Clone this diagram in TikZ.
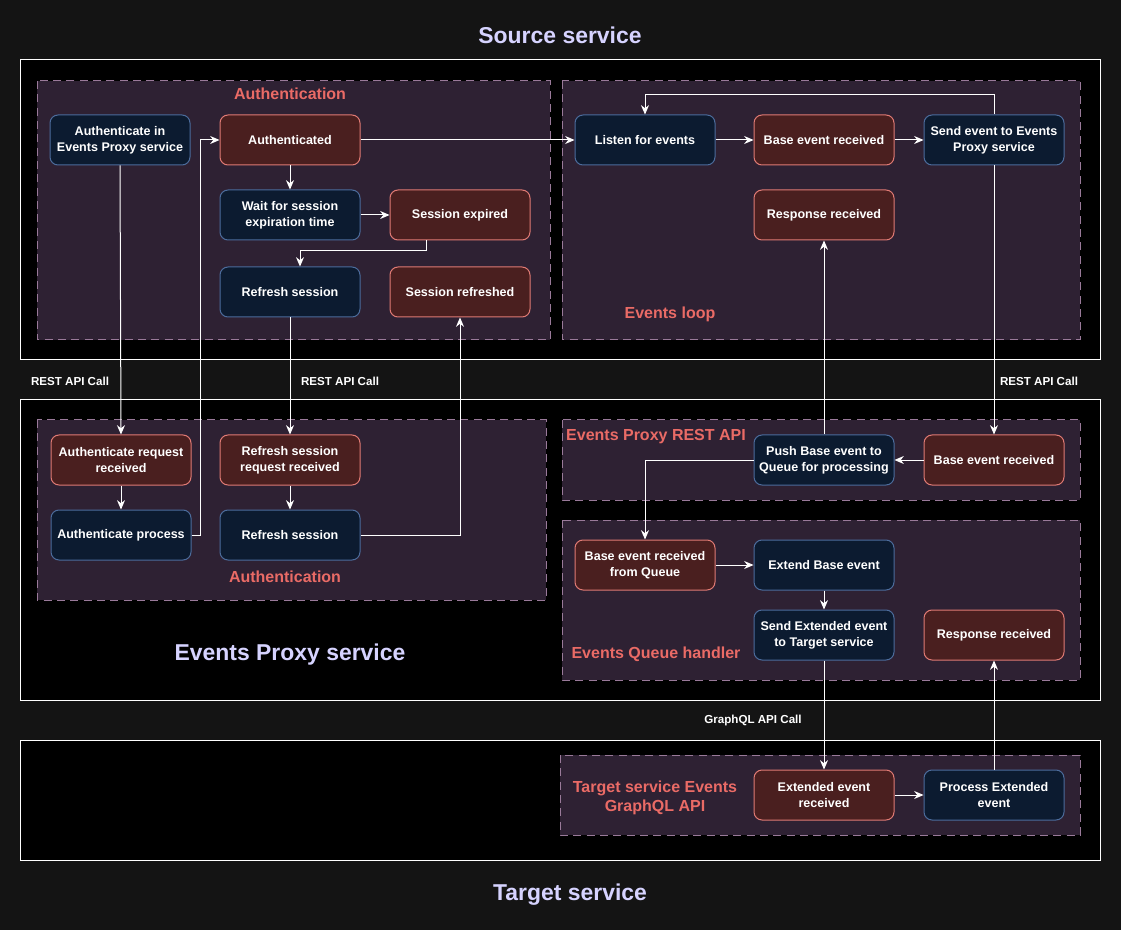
\documentclass[tikz,border=0pt]{standalone}
\usepackage{fontspec}
\setmainfont{Liberation Sans}
\usepackage{tikz}
\usetikzlibrary{arrows.meta}

\definecolor{BgGray}{HTML}{141414}
\definecolor{GroupFill}{HTML}{2E2133}
\definecolor{GroupLine}{HTML}{9A7A9A}
\definecolor{BlueFill}{HTML}{0C1B30}
\definecolor{BlueLine}{HTML}{4C6C9C}
\definecolor{RedFill}{HTML}{4A1F1F}
\definecolor{RedLine}{HTML}{E07A74}
\definecolor{GroupText}{HTML}{EA6B66}
\definecolor{TitleText}{HTML}{D6D3FF}

\begin{document}
\begin{tikzpicture}[x=0.75pt, y=-0.75pt,
    service/.style={draw=white, fill=black, line width=0.75pt},
    group/.style={draw=GroupLine, fill=GroupFill, dashed, dash pattern=on 6pt off 4pt, line width=0.75pt},
    box/.style={rounded corners=6pt, line width=0.75pt, minimum width=105pt, minimum height=37.5pt,
        align=center, text=white, font=\fontsize{9.4}{11.8}\selectfont\bfseries, inner sep=1pt},
    action/.style={box, draw=BlueLine, fill=BlueFill},
    state/.style={box, draw=RedLine, fill=RedFill},
    grouptitle/.style={text=GroupText, font=\fontsize{12}{14}\selectfont\bfseries, align=center},
    servicetitle/.style={text=TitleText, font=\fontsize{17.2}{20}\selectfont\bfseries},
    calltext/.style={text=white, font=\fontsize{8.7}{10}\selectfont\bfseries},
    flow/.style={draw=white, line width=0.75pt, -{Stealth[length=7pt, width=6pt]}}]
	\useasboundingbox (0,0) rectangle (1121,930);
	\fill[BgGray] (0,0) rectangle (1121,930);

	% services and groups
	\draw[service] (20,60) rectangle (1100,360);
	\draw[service] (20,400) rectangle (1100,700);
	\draw[service] (20,740) rectangle (1100,860);
	\draw[group] (37,81) rectangle (550,340);
	\draw[group] (562,81) rectangle (1080,340);
	\draw[group] (37,420) rectangle (546,600);
	\draw[group] (562,420) rectangle (1080,500);
	\draw[group] (562,520) rectangle (1080,680);
	\draw[group] (560,755) rectangle (1080,835);

	\node (SourceTitle) [servicetitle] at (560,35) {Source service};
	\node (ProxyTitle) [servicetitle] at (290,655) {Events Proxy service};
	\node (TargetTitle) [servicetitle] at (570,895) {Target service};
	\node (AuthTop) [grouptitle] at (290,94) {Authentication};
	\node (LoopTitle) [grouptitle] at (670,314) {Events loop};
	\node (AuthBottom) [grouptitle] at (285,577) {Authentication};
	\node (RestTitle) [grouptitle] at (656,437) {Events Proxy REST API};
	\node (QueueTitle) [grouptitle] at (656,654) {Events Queue handler};
	\node (GqlTitle) [grouptitle] at (655,798) {Target service Events\\GraphQL API};

	% source service
	\node (AuthIn) [action] at (120,140) {Authenticate in\\Events Proxy service};
	\node (Authd) [state] at (290,140) {Authenticated};
	\node (Wait) [action] at (290,215) {Wait for session\\expiration time};
	\node (Expired) [state] at (460,215) {Session expired};
	\node (Refresh) [action] at (290,292) {Refresh session};
	\node (Refreshed) [state] at (460,292) {Session refreshed};
	\node (Listen) [action] at (645,140) {Listen for events};
	\node (BaseRecv) [state] at (824,140) {Base event received};
	\node (SendEv) [action] at (994,140) {Send event to Events\\Proxy service};
	\node (RespRecv) [state] at (824,215) {Response received};

	% events proxy service
	\node (AuthReq) [state] at (121,460) {Authenticate request\\received};
	\node (AuthProc) [action] at (121,535) {Authenticate process};
	\node (RefreshReq) [state] at (290,460) {Refresh session\\request received};
	\node (RefreshProc) [action] at (290,535) {Refresh session};
	\node (Push) [action] at (824,460) {Push Base event to\\Queue for processing};
	\node (ApiRecv) [state] at (994,460) {Base event received};
	\node (FromQueue) [state] at (645,565) {Base event received\\from Queue};
	\node (Extend) [action] at (824,565) {Extend Base event};
	\node (SendExt) [action] at (824,635) {Send Extended event\\to Target service};
	\node (ExtResp) [state] at (994,635) {Response received};

	% target service
	\node (ExtRecv) [state] at (824,795) {Extended event\\received};
	\node (ProcExt) [action] at (994,795) {Process Extended\\event};

	\node (CallA) [calltext] at (70,381) {REST API Call};
	\node (CallB) [calltext] at (340,381) {REST API Call};
	\node (CallC) [calltext] at (1039,381) {REST API Call};
	\node (CallD) [calltext] at (753,720) {GraphQL API Call};

	% connectors
	\draw[flow] (AuthIn.south) -- (AuthReq.north);
	\draw[flow] (Authd.south) -- (Wait.north);
	\draw[flow] (Authd.east) -- (Listen.west);
	\draw[flow] (Wait.east) -- (Expired.west);
	\draw[flow] ([xshift=-25.5pt]Expired.south) -- ++(0,10) -| ([xshift=7.5pt]Refresh.north);
	\draw[flow] (Refresh.south) -- (RefreshReq.north);
	\draw[flow] (AuthReq.south) -- (AuthProc.north);
	\draw[flow] (AuthProc.east) -- ++(9,0) |- (Authd.west);
	\draw[flow] (RefreshReq.south) -- (RefreshProc.north);
	\draw[flow] (RefreshProc.east) -| (Refreshed.south);
	\draw[flow] (Listen.east) -- (BaseRecv.west);
	\draw[flow] (BaseRecv.east) -- (SendEv.west);
	\draw[flow] (SendEv.north) -- ++(0,-20) -| (Listen.north);
	\draw[flow] (SendEv.south) -- (ApiRecv.north);
	\draw[flow] (ApiRecv.west) -- (Push.east);
	\draw[flow] (Push.north) -- (RespRecv.south);
	\draw[flow] (Push.west) -| (FromQueue.north);
	\draw[flow] (FromQueue.east) -- (Extend.west);
	\draw[flow] (Extend.south) -- (SendExt.north);
	\draw[flow] (SendExt.south) -- (ExtRecv.north);
	\draw[flow] (ExtRecv.east) -- (ProcExt.west);
	\draw[flow] (ProcExt.north) -- (ExtResp.south);
\end{tikzpicture}
\end{document}
